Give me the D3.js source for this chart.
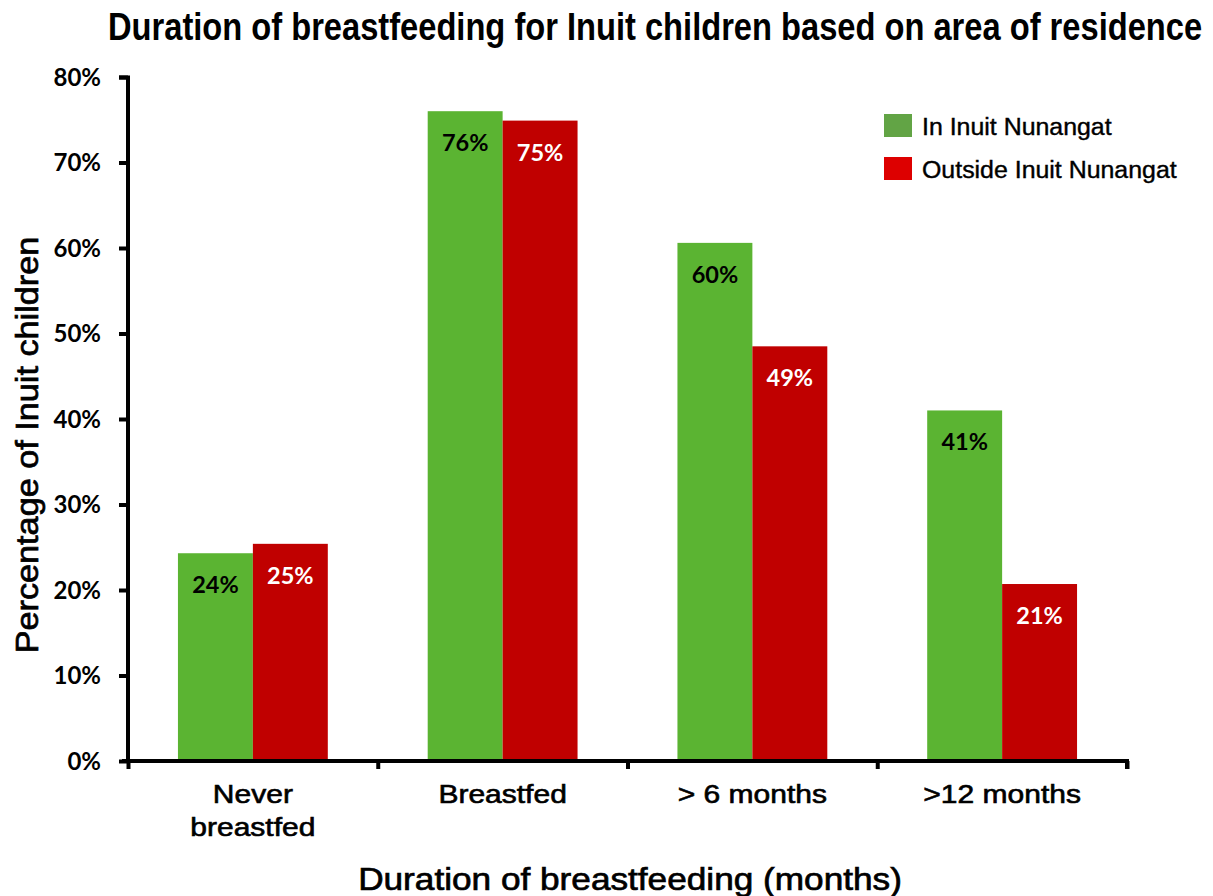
<!DOCTYPE html>
<html>
<head>
<meta charset="utf-8">
<title>Duration of breastfeeding</title>
<script src="https://d3js.org/d3.v7.min.js"></script>
<style>
  body { margin: 0; background: #fff; }
  svg text { fill: #000; }
  .tick-label { font-family: Lato, "Open Sans", sans-serif; font-weight: 700; font-size: 24px; }
  .value-label { font-family: Lato, "Open Sans", sans-serif; font-weight: 700; font-size: 23.5px; }
  .cat-label { font-family: "Liberation Sans", Arial, sans-serif; font-size: 25px; stroke: #000; stroke-width: 0.6px; }
  .axis-title { font-family: "Liberation Sans", Arial, sans-serif; font-size: 32px; stroke: #000; stroke-width: 0.7px; }
  .legend-label { font-family: "Liberation Sans", Arial, sans-serif; font-size: 23.5px; stroke: #000; stroke-width: 0.4px; }
</style>
</head>
<body>
<div id="chart"></div>
<script>
// data
const categories = [["Never", "breastfed"], ["Breastfed"], ["> 6 months"], [">12 months"]];
const seriesNames = ["In Inuit Nunangat", "Outside Inuit Nunangat"];
const inNunangat = [24.3, 76.0, 60.6, 41.0];
const outsideNunangat = [25.4, 74.9, 48.5, 20.7];
const valueLabels = [["24%", "76%", "60%", "41%"], ["25%", "75%", "49%", "21%"]];
const yTicks = [0, 10, 20, 30, 40, 50, 60, 70, 80];

const barColors = ["#5bb432", "#c00000"];
const legendColors = ["#62a445", "#dd0000"];
const labelColors = ["#000", "#fff"];

const W = 1213, H = 896;
const margin = {top: 77, right: 86, bottom: 135, left: 128};
const width = W - margin.left - margin.right;
const height = H - margin.top - margin.bottom;

const svg = d3.select("#chart").append("svg")
    .attr("width", W).attr("height", H);

// title, taller glyphs like the original condensed font
svg.append("g").attr("transform", "translate(108,40) scale(0.99,1.15)")
  .append("text")
    .style("font-family", "'Liberation Sans', Arial, sans-serif")
    .style("font-weight", 700)
    .style("font-size", "33px")
    .text("Duration of breastfeeding for Inuit children based on area of residence");

const g = svg.append("g").attr("transform", `translate(${margin.left},${margin.top})`);

const x0 = d3.scaleBand().domain(d3.range(categories.length)).range([0, width]).paddingInner(0.4).paddingOuter(0.2);
const x1 = d3.scaleBand().domain([0, 1]).range([0, x0.bandwidth()]);
const y = d3.scaleLinear().domain([0, 80]).range([height, 0]);

const series = [inNunangat, outsideNunangat];

// bars
series.forEach((vals, s) => {
  const bars = g.append("g");
  bars.selectAll("rect").data(vals).enter().append("rect")
      .attr("x", (d, i) => x0(i) + x1(s))
      .attr("y", d => y(d))
      .attr("width", x1.bandwidth())
      .attr("height", d => height - y(d))
      .attr("fill", barColors[s]);
  bars.selectAll("text").data(vals).enter().append("text")
      .attr("class", "value-label")
      .attr("x", (d, i) => x0(i) + x1(s) + x1.bandwidth() / 2)
      .attr("y", d => y(d) + 40)
      .attr("text-anchor", "middle")
      .style("fill", labelColors[s])
      .text((d, i) => valueLabels[s][i]);
});

// y axis
const yAxis = g.append("g")
    .call(d3.axisLeft(y).tickValues(yTicks).tickFormat(d => d + "%").tickSize(9).tickPadding(18));
yAxis.select(".domain").attr("stroke", "#000").attr("stroke-width", 4).attr("d", `M-9,0.5H0V${height}`);
yAxis.selectAll(".tick line").attr("stroke", "#000").attr("stroke-width", 4);
yAxis.selectAll(".tick text").attr("class", "tick-label").attr("dy", "0.35em");

// x axis with ticks at category boundaries
const xb = d3.scaleLinear().domain([0, categories.length]).range([0, width]);
const xAxis = g.append("g").attr("transform", `translate(0,${height})`)
    .call(d3.axisBottom(xb).ticks(categories.length).tickFormat("").tickSize(8));
xAxis.select(".domain").attr("stroke", "#000").attr("stroke-width", 4).attr("d", `M-6,0H${width}V8`);
xAxis.selectAll(".tick line").attr("stroke", "#000").attr("stroke-width", 4);

// category labels (widened like the original)
categories.forEach((lines, i) => {
  const cx = x0(i) + x0.bandwidth() / 2;
  const t = g.append("g").attr("transform", `translate(${cx},${height + 42}) scale(1.2,1)`)
    .append("text").attr("class", "cat-label")
      .attr("text-anchor", "middle");
  lines.forEach((ln, k) => {
    t.append("tspan").attr("x", 0).attr("dy", k === 0 ? 0 : 33).text(ln);
  });
});

// axis titles
svg.append("g").attr("transform", "translate(630,890) scale(1.1,1)")
  .append("text").attr("class", "axis-title")
    .attr("text-anchor", "middle")
    .text("Duration of breastfeeding (months)");
svg.append("g").attr("transform", "translate(38,445) rotate(-90) scale(1.07,1)")
  .append("text").attr("class", "axis-title")
    .attr("text-anchor", "middle")
    .text("Percentage of Inuit children");

// legend
const legend = svg.append("g").attr("transform", "translate(884,114)");
seriesNames.forEach((name, i) => {
  const row = legend.append("g").attr("transform", `translate(0,${i * 43})`);
  row.append("rect").attr("width", 28).attr("height", 23).attr("fill", legendColors[i]);
  row.append("g").attr("transform", "translate(38,21) scale(1.06,1)")
    .append("text").attr("class", "legend-label").text(name);
});
</script>
</body>
</html>
